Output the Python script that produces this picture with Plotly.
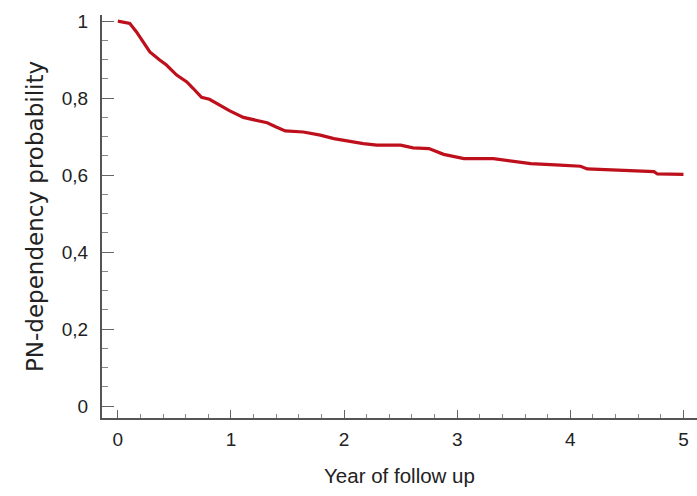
import plotly.graph_objects as go

years = [0.0, 0.106, 0.165, 0.224, 0.283, 0.37, 0.43, 0.52, 0.61, 0.667, 0.74, 0.81, 0.90, 0.99,
         1.11, 1.23, 1.32, 1.40, 1.48, 1.64, 1.79, 1.91, 2.05, 2.17, 2.29, 2.50, 2.61, 2.75,
         2.88, 3.06, 3.32, 3.47, 3.65, 3.91, 4.09, 4.15, 4.47, 4.74, 4.77, 5.0]
prob = [1.0, 0.994, 0.972, 0.946, 0.920, 0.899, 0.886, 0.860, 0.842, 0.825, 0.802, 0.797, 0.782, 0.767,
        0.750, 0.741, 0.736, 0.725, 0.715, 0.712, 0.704, 0.695, 0.687, 0.682, 0.678, 0.678, 0.671, 0.669,
        0.654, 0.643, 0.643, 0.637, 0.630, 0.626, 0.623, 0.616, 0.613, 0.609, 0.603, 0.602]

x_ticks = [0, 1, 2, 3, 4, 5]
y_ticks = [0, 0.2, 0.4, 0.6, 0.8, 1]

fig = go.Figure()
fig.add_trace(go.Scatter(x=years, y=prob, mode="lines", line=dict(color="#be101c", width=3.2, shape="linear"),
                         hoverinfo="skip", showlegend=False))

fig.update_layout(
    width=697, height=496,
    margin=dict(l=102, r=0, t=15, b=78),
    paper_bgcolor="white", plot_bgcolor="white",
    separators=", ",
    font=dict(family="Liberation Sans, Arial", color="#222", size=19),
)
fig.update_xaxes(
    range=[-0.14, 5.12], tickvals=x_ticks, ticktext=[str(v) for v in x_ticks],
    showgrid=False, zeroline=False, showline=True, linecolor="#555", linewidth=2,
    ticks="inside", ticklen=8, tickcolor="#666", tickwidth=1,
    minor=dict(dtick=0.2, ticks="inside", ticklen=4, tickcolor="#888", tickwidth=1),
    tickfont=dict(size=19), ticklabelstandoff=3,
    title=dict(text="Year of follow up", font=dict(size=20.5), standoff=20),
)
fig.update_yaxes(
    range=[-0.031, 1.016], tickvals=y_ticks, ticktext=["0", "0,2", "0,4", "0,6", "0,8", "1"],
    showgrid=False, zeroline=False, showline=True, linecolor="#555", linewidth=2,
    ticks="inside", ticklen=12, tickcolor="#666", tickwidth=1,
    minor=dict(dtick=0.05, ticks="inside", ticklen=6, tickcolor="#888", tickwidth=1),
    tickfont=dict(size=19), ticklabelstandoff=8,
    title=dict(text="PN-dependency probability", font=dict(family="DejaVu Sans", size=23), standoff=12),
)
fig.write_html("out.html")
